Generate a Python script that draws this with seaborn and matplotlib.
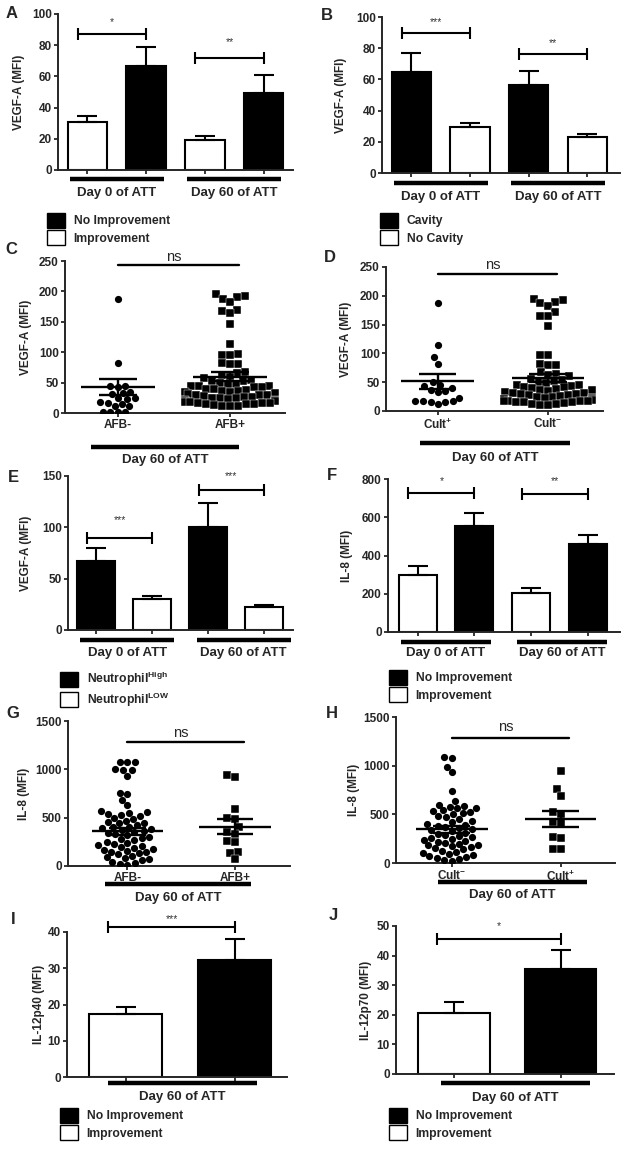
import numpy as np
import pandas as pd
import matplotlib
matplotlib.use('Agg')
import matplotlib.pyplot as plt
from matplotlib.patches import Patch
from matplotlib.transforms import ScaledTranslation
import seaborn as sns
import warnings

warnings.filterwarnings('ignore')

# ---------------- data ----------------
days2 = ['Day 0 of ATT', 'Day 60 of ATT']
day60 = ['Day 60 of ATT']

# A: VEGF-A by improvement
a_groups = ['Improvement', 'No Improvement']
a_mean = {'Improvement': [30.5, 19.5], 'No Improvement': [66.5, 49.5]}
a_err = {'Improvement': [4.0, 2.5], 'No Improvement': [12.5, 11.5]}
a_sig = [(87, 95, '*'), (72, 82, '**')]

# B: VEGF-A by cavity
b_groups = ['Cavity', 'No Cavity']
b_mean = {'Cavity': [65, 56.5], 'No Cavity': [29.5, 23]}
b_err = {'Cavity': [12, 9], 'No Cavity': [2.5, 2]}
b_sig = [(90, 97, '***'), (76, 83, '**')]

# C: VEGF-A, AFB- / AFB+
c_cats = ['AFB-', 'AFB+']
c_neg = [188, 82, 45, 44, 43, 35, 33, 31, 25, 24, 23, 18, 16, 14, 12, 11, 1, 1, 1, 1]
c_pos = [195, 192, 190, 188, 183, 170, 167, 165, 147, 113, 97, 96, 95, 82, 80, 80,
         68, 66, 63, 60, 57, 55, 53, 52, 50, 48, 47, 45, 45, 44, 43, 42, 40, 40, 38,
         37, 36, 35, 34, 33, 32, 30, 30, 29, 28, 27, 26, 25, 25, 24, 23, 22, 21, 20,
         20, 19, 18, 18, 17, 17, 16, 15, 15, 14, 13, 12, 12, 11]
c_mean = [43, 60]
c_sem = [13, 7]

# D: VEGF-A, Cult+ / Cult-
d_cats = ['Cult$^{+}$', 'Cult$^{-}$']
d_pos = [188, 115, 93, 82, 50, 45, 43, 40, 37, 35, 33, 23, 18, 17, 17, 16, 16, 12]
d_neg = [195, 192, 190, 187, 183, 172, 165, 165, 147, 97, 97, 82, 80, 80, 68, 65,
         62, 60, 56, 54, 52, 50, 48, 46, 45, 44, 42, 41, 40, 38, 37, 36, 35, 33, 32,
         31, 30, 29, 28, 27, 26, 25, 24, 23, 22, 21, 20, 20, 19, 18, 18, 17, 17, 16,
         15, 15, 14, 13, 12, 11, 10]
d_mean = [51.5, 57]
d_sem = [13, 7]

# E: VEGF-A by neutrophil count
e_groups = ['Neutrophil$^{\\mathrm{High}}$', 'Neutrophil$^{\\mathrm{LOW}}$']
e_mean = {e_groups[0]: [67, 100], e_groups[1]: [30, 22]}
e_err = {e_groups[0]: [13, 24], e_groups[1]: [3, 2]}
e_sig = [(90, 107, '***'), (136, 150, '***')]

# F: IL-8 by improvement
f_mean = {'Improvement': [300, 205], 'No Improvement': [552, 460]}
f_err = {'Improvement': [45, 27], 'No Improvement': [68, 45]}
f_sig = [(727, 790, '*'), (720, 790, '**')]

# G: IL-8, AFB- / AFB+
g_cats = ['AFB-', 'AFB+']
g_neg = [1080, 1080, 1080, 1000, 990, 990, 930, 760, 740, 680, 630, 570, 560, 550,
         540, 530, 520, 500, 490, 470, 460, 450, 440, 420, 400, 400, 390, 380, 370,
         360, 350, 340, 330, 320, 300, 290, 280, 270, 250, 240, 230, 220, 210, 200,
         190, 180, 170, 160, 150, 140, 130, 120, 100, 90, 80, 70, 60, 40, 30, 20, 10]
g_pos = [940, 925, 590, 500, 490, 400, 350, 330, 260, 250, 150, 130, 70]
g_mean = [358, 405]
g_sem = [37, 77]

# H: IL-8, Cult- / Cult+
h_cats = ['Cult$^{-}$', 'Cult$^{+}$']
h_neg = [1090, 1080, 990, 930, 740, 640, 600, 590, 580, 570, 560, 540, 530, 520,
         510, 500, 480, 470, 450, 430, 420, 400, 390, 380, 370, 360, 350, 340, 330,
         310, 300, 290, 280, 270, 260, 250, 240, 230, 220, 210, 200, 190, 180, 170,
         160, 150, 140, 120, 110, 100, 90, 80, 70, 60, 50, 40, 30, 20]
h_pos = [950, 760, 690, 520, 500, 420, 410, 270, 260, 145, 140]
h_mean = [345, 456]
h_sem = [36, 82]

# I / J: IL-12
i_mean = {'Improvement': [17.3], 'No Improvement': [32.2]}
i_err = {'Improvement': [1.9], 'No Improvement': [5.8]}
i_sig = [(41.5, 43.5, '***')]
j_mean = {'Improvement': [20.5], 'No Improvement': [35.5]}
j_err = {'Improvement': [3.8], 'No Improvement': [6.3]}
j_sig = [(45.5, 50, '*')]

# ---------------- style ----------------
sns.set_style('ticks')
plt.rcParams['font.family'] = ['Liberation Sans', 'DejaVu Sans']
plt.rcParams['mathtext.fontset'] = 'custom'
plt.rcParams['mathtext.rm'] = 'Liberation Sans:bold'
plt.rcParams['mathtext.bf'] = 'Liberation Sans:bold'

W, H = 623, 1152
fig = plt.figure(figsize=(W / 100, H / 100), dpi=100)
fig.patch.set_facecolor('white')


def make_ax(x0, x1, ytop, ybot):
    return fig.add_axes([x0 / W, 1 - ybot / H, (x1 - x0) / W, (ybot - ytop) / H])


def style_ax(ax, ylim, yticks, ylabel, label_dx):
    sns.despine(ax=ax)
    for s in ['left', 'bottom']:
        ax.spines[s].set_linewidth(1.4)
    ax.set_ylim(*ylim)
    ax.set_yticks(yticks)
    ax.tick_params(direction='out', length=3, width=1.3, labelsize=8.5, pad=1.5)
    for t in ax.get_yticklabels():
        t.set_fontweight('bold')
    ax.set_ylabel(ylabel, fontsize=8.5, fontweight='bold')
    w_px = ax.get_position().width * W
    ax.yaxis.set_label_coords(-label_dx / w_px, 0.5)
    ax.set_xlabel('')


def below(ax, px):
    return ax.get_xaxis_transform() + ScaledTranslation(0, -px / 100, fig.dpi_scale_trans)


def group_lines(ax, centers, half, labels, line_px, text_px, lw=3.2):
    for c, lab in zip(centers, labels):
        ax.plot([c - half, c + half], [0, 0], color='black', lw=lw,
                transform=below(ax, line_px), clip_on=False, solid_capstyle='butt')
        ax.text(c, 0, lab, ha='center', va='center', fontsize=9.5,
                fontweight='bold', transform=below(ax, text_px), clip_on=False)


def bar_panel(ax, days, groups, means, errs, colors, sig, xlim):
    rows = [(d, g, means[g][i]) for i, d in enumerate(days) for g in groups]
    df = pd.DataFrame(rows, columns=['day', 'group', 'value'])
    sns.barplot(data=df, x='day', y='value', hue='group', order=days,
                hue_order=groups, palette=colors, width=1.0, gap=0.33,
                edgecolor='black', linewidth=1.5, errorbar=None, legend=False,
                ax=ax)
    centers = {}
    for g, cont in zip(groups, ax.containers):
        for i, bar in enumerate(cont):
            xc = bar.get_x() + bar.get_width() / 2
            centers[(g, i)] = xc
            ax.errorbar([xc], [bar.get_height()], yerr=[[0], [errs[g][i]]],
                        fmt='none', ecolor='black', elinewidth=1.5, capsize=7.5,
                        capthick=1.5, zorder=1)
    ax.set_xticks(sorted(centers.values()))
    ax.set_xticklabels([])
    ax.set_xlim(*xlim)
    for i, (yb, ys, stars) in enumerate(sig):
        x1 = centers[(groups[0], i)] - 0.08
        x2 = centers[(groups[1], i)]
        ax.plot([x1, x2], [yb, yb], color='black', lw=1.5, marker='|', ms=8,
                mew=1.5, clip_on=False)
        ax.text((x1 + x2) / 2, ys, stars, ha='center', va='center', fontsize=7.5,
                color='#333333', clip_on=False)


def dot_panel(ax, cats, neg_pos, markers, means, sems, ns_y, xlim):
    for cat, vals, mk in zip(cats, neg_pos, markers):
        d = pd.DataFrame({'cat': cat, 'val': vals})
        sns.swarmplot(data=d, x='cat', y='val', order=cats, marker=mk,
                      color='black', size=5.2,
                      edgecolor='white', linewidth=0.3 if mk == 's' else 0,
                      ax=ax, zorder=3)
    for i, (m, s) in enumerate(zip(means, sems)):
        ax.hlines(m, i - 0.33, i + 0.33, color='black', lw=1.7, zorder=6)
        ax.hlines([m - s, m + s], i - 0.17, i + 0.17, color='black', lw=1.7, zorder=6)
        ax.vlines(i, m - s, m + s, color='black', lw=1.7, zorder=6)
    ax.set_xlim(*xlim)
    ax.set_xticks(range(len(cats)))
    ax.set_xticklabels(cats, fontsize=8.5, fontweight='bold')
    ax.plot([0.0, 1.08], [ns_y[0], ns_y[0]], color='black', lw=1.7, clip_on=False)
    ax.text(0.5, ns_y[1], 'ns', ha='center', va='center', fontsize=10.5,
            clip_on=False)


def key(x, y, labels, colors):
    handles = [Patch(facecolor=c, edgecolor='black', linewidth=1.0) for c in colors]
    fig.legend(handles, labels, loc='upper left', bbox_to_anchor=(x / W, 1 - y / H),
               frameon=False, borderpad=0, borderaxespad=0, handlelength=1.5,
               handleheight=1.5, handletextpad=0.7, labelspacing=0.2,
               prop={'size': 8.7, 'weight': 'bold'})


def letter(x, y, s):
    fig.text(x / W, 1 - y / H, s, fontsize=12, fontweight='bold', ha='center',
             va='center')


imp_cols = {'Improvement': 'white', 'No Improvement': 'black'}

# A
ax = make_ax(58, 293, 14, 170)
bar_panel(ax, days2, a_groups, a_mean, a_err, imp_cols, a_sig, (-0.5, 1.5))
style_ax(ax, (0, 100), range(0, 101, 20), 'VEGF-A (MFI)', 33)
group_lines(ax, [0, 1], 0.4, days2, 9, 23)
key(47, 213, ['No Improvement', 'Improvement'], ['black', 'white'])
letter(12, 14, 'A')

# B
ax = make_ax(382, 620, 17, 173)
bar_panel(ax, days2, b_groups, b_mean, b_err,
          {'Cavity': 'black', 'No Cavity': 'white'}, b_sig, (-0.5, 1.53))
style_ax(ax, (0, 100), range(0, 101, 20), 'VEGF-A (MFI)', 35)
group_lines(ax, [0, 1], 0.4, days2, 10, 24)
key(380, 213, ['Cavity', 'No Cavity'], ['black', 'white'])
letter(327, 15, 'B')

# C
ax = make_ax(65, 285, 261, 413)
dot_panel(ax, c_cats, [c_neg, c_pos], ['o', 's'], c_mean, c_sem, (243, 256),
          (-0.47, 1.49))
style_ax(ax, (0, 250), range(0, 251, 50), 'VEGF-A (MFI)', 33)
group_lines(ax, [0.42], 0.66, ['Day 60 of ATT'], 34, 47)
letter(11, 250, 'C')

# D
ax = make_ax(386, 603, 267, 411)
dot_panel(ax, d_cats, [d_pos, d_neg], ['o', 's'], d_mean, d_sem, (238, 253),
          (-0.47, 1.5))
style_ax(ax, (0, 250), range(0, 251, 50), 'VEGF-A (MFI)', 34)
group_lines(ax, [0.52], 0.68, ['Day 60 of ATT'], 32, 47)
letter(330, 257, 'D')

# E
ax = make_ax(68, 293, 476, 630)
bar_panel(ax, days2, e_groups, e_mean, e_err,
          {e_groups[0]: 'black', e_groups[1]: 'white'}, e_sig, (-0.5, 1.51))
style_ax(ax, (0, 150), range(0, 151, 50), 'VEGF-A (MFI)', 36)
group_lines(ax, [0.03, 1.07], 0.42, days2, 10, 23)
key(60, 670, e_groups, ['black', 'white'])
letter(13, 477, 'E')

# F
ax = make_ax(388, 620, 479, 632)
bar_panel(ax, days2, a_groups, f_mean, f_err, imp_cols, f_sig, (-0.51, 1.53))
style_ax(ax, (0, 800), range(0, 801, 200), 'IL-8 (MFI)', 35)
group_lines(ax, [0, 1.02], 0.4, days2, 10, 21)
key(389, 670, ['No Improvement', 'Improvement'], ['black', 'white'])
letter(332, 475, 'F')

# G
ax = make_ax(68, 290, 721, 866)
dot_panel(ax, g_cats, [g_neg, g_pos], ['o', 's'], g_mean, g_sem, (1283, 1376),
          (-0.55, 1.51))
style_ax(ax, (0, 1500), range(0, 1501, 500), 'IL-8 (MFI)', 38)
group_lines(ax, [0.47], 0.68, ['Day 60 of ATT'], 18, 32)
letter(13, 713, 'G')

# H
ax = make_ax(396, 615, 717, 863)
dot_panel(ax, h_cats, [h_neg, h_pos], ['o', 's'], h_mean, h_sem, (1284, 1397),
          (-0.51, 1.5))
style_ax(ax, (0, 1500), range(0, 1501, 500), 'IL-8 (MFI)', 36)
group_lines(ax, [0.56], 0.68, ['Day 60 of ATT'], 19, 32)
letter(332, 713, 'H')

# I
ax = make_ax(67, 287, 932, 1077)
bar_panel(ax, day60, a_groups, i_mean, i_err, imp_cols, i_sig, (-0.52, 0.49))
style_ax(ax, (0, 40), range(0, 41, 10), 'IL-12p40 (MFI)', 22)
group_lines(ax, [0.01], 0.34, day60, 6, 20)
key(60, 1108, ['No Improvement', 'Improvement'], ['black', 'white'])
letter(13, 920, 'I')

# J
ax = make_ax(396, 614, 926, 1074)
bar_panel(ax, day60, a_groups, j_mean, j_err, imp_cols, j_sig, (-0.52, 0.5))
style_ax(ax, (0, 50), range(0, 51, 10), 'IL-12p70 (MFI)', 24)
group_lines(ax, [0.04], 0.35, day60, 9, 24)
key(389, 1108, ['No Improvement', 'Improvement'], ['black', 'white'])
letter(333, 915, 'J')

fig.savefig('out.png', dpi=100, facecolor='white')
